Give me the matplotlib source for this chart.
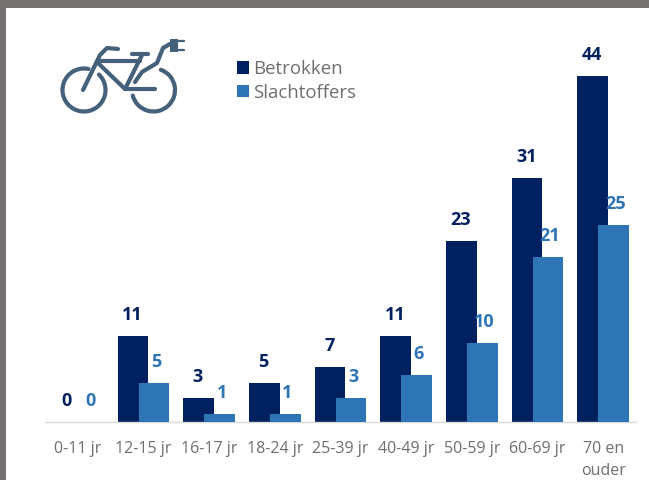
import matplotlib
matplotlib.use("Agg")
import matplotlib.pyplot as plt
from matplotlib.patches import Arc, Rectangle

categories = ["0-11 jr", "12-15 jr", "16-17 jr", "18-24 jr", "25-39 jr",
              "40-49 jr", "50-59 jr", "60-69 jr", "70 en\nouder"]
betrokken = [0, 11, 3, 5, 7, 11, 23, 31, 44]
slachtoffers = [0, 5, 1, 1, 3, 6, 10, 21, 25]

W, H = 649, 480
DARK, LIGHT = "#002060", "#2E75B6"
GREY = "#767171"
TXT = "#6E6E6E"
ICON = "#44607A"
plt.rcParams["font.family"] = ["Open Sans", "DejaVu Sans"]

fig = plt.figure(figsize=(W / 100, H / 100), dpi=100, facecolor="white")

# window frame and icon layer in pixel coordinates
bg = fig.add_axes([0, 0, 1, 1], zorder=0)
bg.set_xlim(0, W); bg.set_ylim(H, 0); bg.axis("off")
bg.add_patch(Rectangle((0, 0), W, 8, color=GREY, lw=0))
bg.add_patch(Rectangle((0, 0), 6, H, color=GREY, lw=0))

# bicycle icon
lw = 3.0
kw = dict(color=ICON, lw=lw, solid_capstyle="round", solid_joinstyle="round")
bg.add_patch(Arc((84, 90), 43, 43, theta1=-46, theta2=282, color=ICON, lw=lw, capstyle="round"))
bg.add_patch(Arc((153.5, 90), 43, 43, theta1=-70, theta2=165, color=ICON, lw=lw, capstyle="round"))
bg.plot([83, 100, 107, 118], [90, 55, 48, 49], **kw)
bg.plot([98, 125, 155], [63, 89, 89], **kw)
bg.plot([98, 140], [61, 61], **kw)
bg.plot([125, 142], [89, 55], **kw)
bg.plot([132, 148], [54, 54], **kw)
bg.plot([135, 142, 157, 163, 170], [82, 72, 63, 48, 44], **kw)
bg.plot([177, 184], [41, 41], color=ICON, lw=1.6, solid_capstyle="round")
bg.plot([177, 184], [50, 50], color=ICON, lw=1.6, solid_capstyle="round")
bg.add_patch(Rectangle((170, 39), 8, 13, color=ICON, lw=0))

# chart axes: baseline at y=422, x from 45 to 636 px
ax = fig.add_axes([45 / W, 1 - 422 / H, 591 / W, 346 / H], zorder=1)
ax.patch.set_alpha(0)
ax.set_xlim(-0.5, 8.5)
ax.set_ylim(0, 44)
bw = 30.5 / 65.67
off = 10.5 / 65.67
xs = list(range(len(categories)))
b1 = ax.bar([x - off for x in xs], betrokken, bw, color=DARK, label="Betrokken", zorder=2)
b2 = ax.bar([x + off for x in xs], slachtoffers, bw, color=LIGHT, label="Slachtoffers", zorder=3)
l1 = ax.bar_label(b1, padding=8.6, color=DARK, fontweight="bold", fontsize=13, clip_on=False)
l2 = ax.bar_label(b2, padding=8.6, color=LIGHT, fontweight="bold", fontsize=13, clip_on=False)
for t in l1:
    t.xyann = (-0.5, t.xyann[1])
for t in l2:
    t.xyann = (1.5, t.xyann[1])

for s in ("top", "left", "right"):
    ax.spines[s].set_visible(False)
ax.spines["bottom"].set_color("#D9D9D9")
ax.spines["bottom"].set_linewidth(1)
ax.set_yticks([])
ax.set_xticks(xs, categories)
ax.tick_params(axis="x", length=0, pad=14, labelcolor=TXT, labelsize=11.5)
for t in ax.get_xticklabels():
    t.set_linespacing(1.45)

leg = fig.legend(handles=[b1, b2], loc="upper left",
                 bbox_to_anchor=(237 / W, 1 - 60 / H), bbox_transform=fig.transFigure,
                 frameon=False, fontsize=13.4, labelcolor=TXT, handlelength=0.65, handleheight=0.65,
                 handletextpad=0.2, labelspacing=0.3, borderpad=0, borderaxespad=0)
fig.savefig("out.png", dpi=100, facecolor="white")
